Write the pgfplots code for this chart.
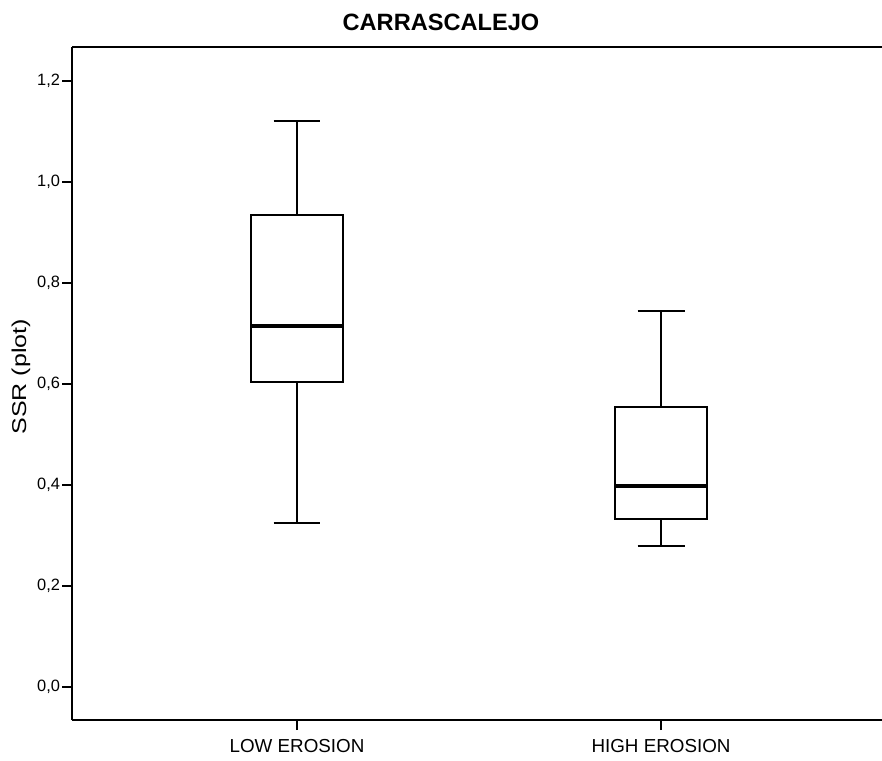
\documentclass[border=0pt]{standalone}
\usepackage{graphicx}
\usepackage{pgfplots}
\pgfplotsset{compat=1.18}
\usepgfplotslibrary{statistics}
\usepackage{fontspec}
\setmainfont{Liberation Sans}
\begin{document}
\begin{tikzpicture}
\useasboundingbox (0pt,0pt) rectangle (441pt,380pt);
\node[font=\bfseries\fontsize{11.8}{14}\selectfont] at (220.5pt,369pt) {CARRASCALEJO};
\begin{axis}[
  at={(36pt,20pt)}, anchor=south west, scale only axis,
  width=405pt, height=336.5pt,
  xmin=0.382, xmax=2.607,
  ymin=-0.065, ymax=1.267,
  axis x line*=bottom, axis y line*=left,
  axis line style={line width=1pt},
  clip=false,
  tick align=outside,
  major tick length=5pt,
  tick style={line width=1pt, black},
  xtick={1,2}, xticklabels={LOW EROSION, HIGH EROSION},
  ytick={0,0.2,0.4,0.6,0.8,1.0,1.2},
  /pgf/number format/fixed,
  /pgf/number format/fixed zerofill,
  /pgf/number format/precision=1,
  /pgf/number format/use comma,
  /pgf/number format/assume math mode=true,
  xticklabel style={font=\fontsize{9.4}{11}\selectfont, yshift=-1pt},
  yticklabel style={font=\fontsize{8.2}{10}\selectfont, xshift=2.5pt},
  ylabel={\scalebox{1.25}[1]{SSR (plot)}},
  ylabel style={font=\fontsize{8.6}{10}\selectfont},
  every axis y label/.style={at={(axis description cs:-0.063,0.51)}, rotate=90, anchor=center},
  boxplot/draw direction=y,
  boxplot/box extend=0.253,
  boxplot/whisker extend=0.129,
  boxplot/every box/.style={line width=1pt, draw=black, fill=white},
  boxplot/every whisker/.style={line width=1pt, black},
  boxplot/every median/.style={line width=2pt, black},
]
\addplot+[black, boxplot prepared={draw position=1,
  lower whisker=0.325, lower quartile=0.604, median=0.715,
  upper quartile=0.935, upper whisker=1.121}] coordinates {};
\addplot+[black, boxplot prepared={draw position=2,
  lower whisker=0.279, lower quartile=0.333, median=0.398,
  upper quartile=0.554, upper whisker=0.745}] coordinates {};
\draw[line width=1pt] (rel axis cs:0,1) -- (rel axis cs:1,1);
\end{axis}
\end{tikzpicture}
\end{document}
